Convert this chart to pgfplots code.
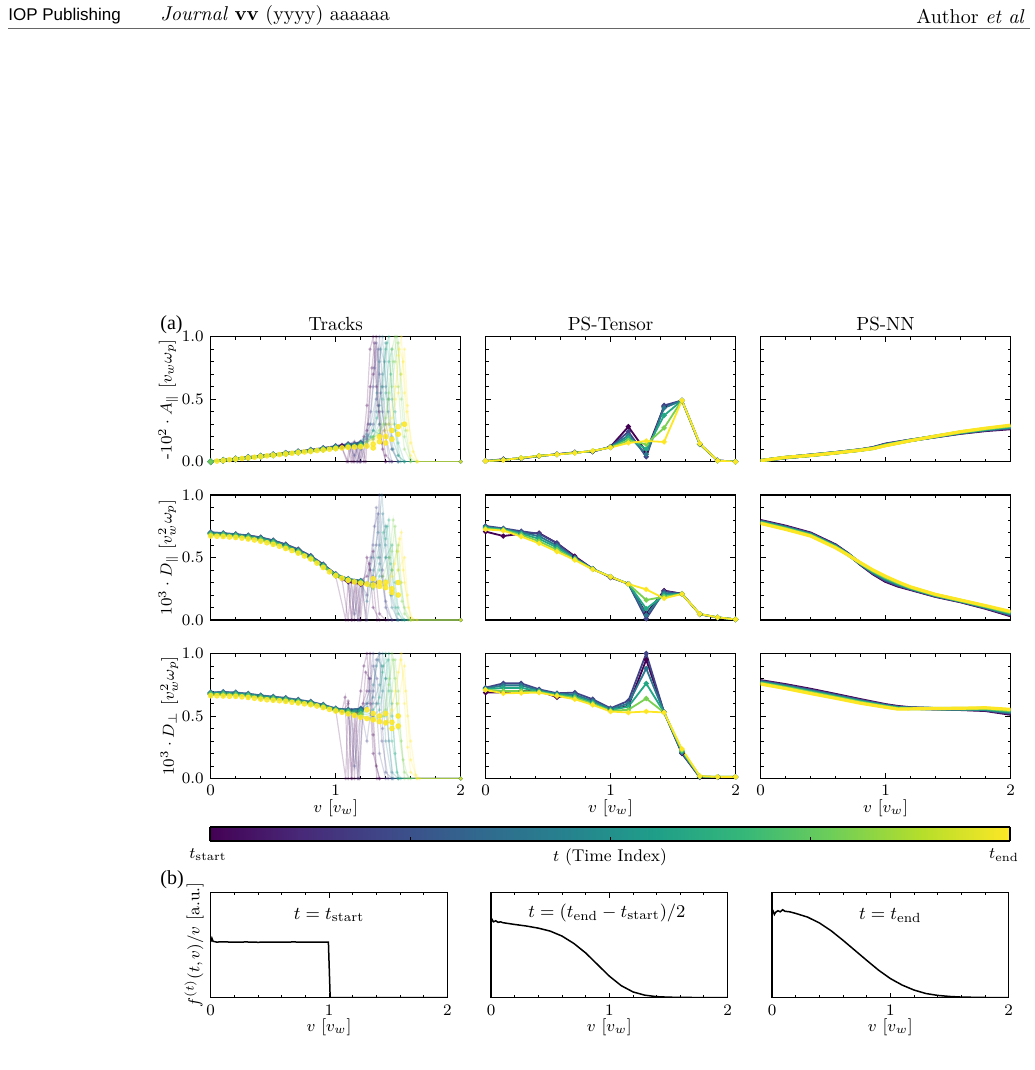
\documentclass[border=0pt]{standalone}
\usepackage{fontspec}
\usepackage{pgfplots}
\usepackage{pgfplotstable}
\pgfplotsset{compat=1.18}
\newfontfamily\timesf{Liberation Serif}
\newfontfamily\helvf{Liberation Sans}
\definecolor{C0}{RGB}{68,1,84}
\definecolor{C1}{RGB}{65,68,135}
\definecolor{C2}{RGB}{42,120,142}
\definecolor{C3}{RGB}{34,168,132}
\definecolor{C4}{RGB}{122,209,81}
\definecolor{C5}{RGB}{253,231,37}
\pgfplotsset{colormap={vir}{rgb255=(68,1,84) rgb255=(72,40,120) rgb255=(62,73,137) rgb255=(49,104,142) rgb255=(38,130,142) rgb255=(31,158,137) rgb255=(53,183,121) rgb255=(110,206,88) rgb255=(181,222,43) rgb255=(253,231,37)}}
\pgfplotsset{
  base/.style={scale only axis, xmin=0, xmax=2, ymin=0, ymax=1, xtick={0,1,2}, minor x tick num=4,
    tick align=inside, major tick length=2.6pt, minor tick length=1.5pt,
    tick style={black, line width=0.45pt}, axis line style={line width=0.6pt},
    tick label style={font=\fontsize{8.5}{9}\selectfont},
    label style={font=\fontsize{8.5}{9}\selectfont},
    title style={font=\fontsize{9.5}{10}\selectfont, yshift=-6.5pt},
    xlabel shift=-5pt},
  apanel/.style={base, width=125pt, height=62.5pt, ytick={0,0.5,1}, minor y tick num=4,
    ylabel shift=-5pt,
    yticklabel style={/pgf/number format/.cd, fixed, fixed zerofill, precision=1}},
  bpanel/.style={base, width=118.3pt, height=52.7pt, ytick=\empty},
  fan/.style={line width=0.6pt, opacity=0.2, mark=*, mark size=0.6pt},
  core/.style={line width=1.3pt, opacity=0.75, mark=*, mark size=0.8pt},
  ydot/.style={only marks, mark=*, mark size=1.2pt, color=C5, opacity=0.85},
  ps/.style={line width=0.9pt, mark=*, mark size=0.8pt},
  nn/.style={line width=1.6pt},
}
% PS-Tensor tables
\pgfplotstableread{
v t0 t1 t2 t3 t4 t5
0 .005 .005 .005 .005 .005 .005
0.1429 .020 .018 .016 .015 .014 .013
0.2857 .025 .027 .028 .029 .030 .030
0.4286 .045 .046 .046 .047 .047 .047
0.5714 .060 .059 .059 .058 .058 .058
0.7143 .075 .074 .073 .072 .071 .070
0.8571 .080 .082 .084 .085 .086 .087
1.0 .120 .118 .117 .115 .114 .113
1.1429 .280 .240 .210 .190 .170 .150
1.2857 .080 .040 .060 .100 .140 .166
1.4286 .440 .450 .430 .370 .270 .158
1.5714 .490 .490 .490 .490 .490 .490
1.7143 .140 .140 .142 .143 .144 .145
1.8571 .010 .010 .009 .009 .008 .008
2.0 .000 .000 .000 .000 .000 .000
}\tenA
\pgfplotstableread{
v t0 t1 t2 t3 t4 t5
0 .707 .752 .745 .738 .730 .725
0.1429 .672 .733 .728 .724 .720 .715
0.2857 .690 .710 .700 .690 .680 .667
0.4286 .695 .690 .670 .650 .630 .613
0.5714 .615 .615 .595 .580 .562 .547
0.7143 .510 .500 .495 .490 .485 .480
0.8571 .410 .410 .409 .408 .406 .405
1.0 .340 .345 .346 .346 .347 .347
1.1429 .290 .290 .289 .289 .288 .288
1.2857 .050 .010 .040 .090 .160 .245
1.4286 .235 .230 .215 .200 .186 .173
1.5714 .210 .210 .209 .209 .208 .208
1.7143 .045 .046 .047 .047 .048 .048
1.8571 .020 .020 .021 .021 .021 .021
2.0 .005 .005 .005 .005 .005 .005
}\tenB
\pgfplotstableread{
v t0 t1 t2 t3 t4 t5
0 .687 .727 .720 .715 .711 .708
0.1429 .690 .761 .745 .725 .700 .682
0.2857 .700 .761 .745 .725 .700 .684
0.4286 .700 .713 .705 .698 .692 .687
0.5714 .650 .682 .677 .671 .665 .660
0.7143 .660 .687 .672 .658 .646 .634
0.8571 .600 .634 .620 .607 .598 .589
1.0 .550 .562 .555 .548 .541 .536
1.1429 .580 .621 .600 .575 .550 .528
1.2857 .950 1.000 .880 .760 .640 .536
1.4286 .530 .530 .530 .529 .528 .528
1.5714 .200 .205 .210 .218 .227 .236
1.7143 .010 .012 .014 .016 .018 .019
1.8571 .010 .012 .012 .013 .013 .013
2.0 .013 .013 .013 .013 .013 .013
}\tenC
% PS-NN tables
\pgfplotstableread{
v t0 t1 t2 t3 t4 t5
0 .008 .008 .008 .008 .008 .008
0.2 .032 .033 .033 .034 .034 .035
0.4 .052 .052 .051 .051 .050 .050
0.6 .072 .072 .071 .071 .070 .070
0.8 .095 .094 .094 .093 .093 .092
0.9 .112 .110 .109 .107 .106 .105
1.0 .140 .138 .135 .133 .130 .128
1.2 .172 .171 .170 .170 .169 .168
1.4 .200 .201 .202 .203 .204 .205
1.6 .228 .230 .233 .235 .238 .240
1.8 .250 .254 .257 .261 .264 .268
2.0 .265 .270 .276 .281 .287 .292
}\nnA
\pgfplotstableread{
v t0 t1 t2 t3 t4 t5
0 .795 .791 .786 .782 .777 .773
0.2 .750 .745 .740 .735 .730 .725
0.4 .695 .690 .686 .681 .677 .672
0.6 .600 .596 .591 .587 .582 .578
0.7 .530 .528 .526 .524 .522 .520
0.8 .445 .448 .450 .453 .455 .458
0.9 .370 .376 .382 .388 .394 .400
1.0 .310 .318 .326 .334 .342 .350
1.1 .272 .279 .286 .292 .299 .305
1.2 .245 .249 .253 .257 .261 .265
1.4 .190 .193 .196 .199 .202 .205
1.6 .147 .150 .152 .155 .157 .160
1.8 .095 .099 .103 .107 .111 .115
2.0 .035 .042 .048 .055 .061 .068
}\nnB
\pgfplotstableread{
v t0 t1 t2 t3 t4 t5
0 .782 .777 .772 .766 .761 .756
0.2 .750 .744 .738 .732 .726 .720
0.4 .713 .706 .700 .693 .687 .680
0.6 .672 .666 .660 .654 .648 .642
0.8 .630 .624 .619 .613 .608 .602
1.0 .590 .586 .582 .578 .574 .570
1.1 .575 .571 .567 .563 .559 .555
1.2 .565 .563 .562 .560 .559 .557
1.4 .558 .558 .559 .559 .560 .560
1.6 .553 .555 .557 .558 .560 .562
1.8 .545 .549 .553 .558 .562 .566
2.0 .515 .523 .530 .538 .545 .553
}\nnC
\begin{document}
\begin{tikzpicture}
\path[use as bounding box] (0pt,0pt) rectangle (517pt,-535pt);
% header
\node[anchor=west, inner sep=0pt, font=\helvf\fontsize{8.5}{10}\selectfont] at (4pt,-8pt) {IOP Publishing};
\node[anchor=west, inner sep=0pt, font=\fontsize{10}{11}\selectfont] at (80pt,-8pt) {\textit{Journal} \textbf{vv} (yyyy) aaaaaa};
\node[anchor=east, inner sep=0pt, font=\fontsize{10}{11}\selectfont] at (512.5pt,-8pt) {Author \textit{et al}};
\draw[line width=0.4pt, black!60] (4pt,-14pt) -- (515pt,-14pt);
\node[font=\timesf\fontsize{10}{11}\selectfont] at (85.75pt,-162.5pt) {(a)};
\node[font=\timesf\fontsize{10}{11}\selectfont] at (86pt,-440pt) {(b)};

% ===== Row 1 =====
\begin{axis}[apanel, at={(105.35pt,-230.85pt)}, anchor=south west, title={Tracks}, xticklabels={},
  ylabel={-$10^2\cdot A_\parallel$ [$v_w\omega_p$]}]
\addplot[C0,fan] coordinates {(1.05,.11)(1.1,0)(1.125,.13)(1.15,0)(1.175,.14)(1.2,0)(1.225,.2)(1.25,.45)(1.275,.9)(1.3,1.0)(1.325,.6)(1.35,.3)(1.375,.1)(1.4,0)(2,0)};
\addplot[C0,fan] coordinates {(1.05,.11)(1.1,.12)(1.125,0)(1.15,.15)(1.175,0)(1.2,.13)(1.225,0)(1.25,.25)(1.275,.6)(1.3,.7)(1.325,1.0)(1.35,.4)(1.4,.05)(1.45,0)(2,0)};
\addplot[C0,fan] coordinates {(1.05,.11)(1.09,0)(1.11,.12)(1.14,0)(1.16,.13)(1.19,0)(1.21,.14)(1.24,0)(1.26,.3)(1.29,.75)(1.31,.95)(1.34,.45)(1.37,.15)(1.4,0)(2,0)};
\addplot[C1,fan] coordinates {(1.05,.12)(1.1,.13)(1.15,.05)(1.2,.15)(1.25,.12)(1.275,.3)(1.3,.6)(1.325,.95)(1.35,.7)(1.375,.4)(1.4,.2)(1.45,0)(2,0)};
\addplot[C1,fan] coordinates {(1.05,.12)(1.1,.14)(1.15,.16)(1.2,0)(1.25,.18)(1.3,.3)(1.325,.5)(1.35,1.0)(1.375,.6)(1.4,.3)(1.45,.1)(1.5,0)(2,0)};
\addplot[C1,fan] coordinates {(1.05,.12)(1.12,.13)(1.17,0)(1.22,.16)(1.28,.4)(1.31,.75)(1.34,.9)(1.36,.55)(1.39,.25)(1.43,0)(2,0)};
\addplot[C2,fan] coordinates {(1.05,.12)(1.15,.14)(1.2,.15)(1.25,.2)(1.3,.25)(1.325,.4)(1.35,.8)(1.375,1.0)(1.4,.6)(1.425,.3)(1.45,.1)(1.5,0)(2,0)};
\addplot[C2,fan] coordinates {(1.05,.12)(1.15,.13)(1.2,.1)(1.25,.22)(1.3,.18)(1.35,.45)(1.375,.7)(1.4,.95)(1.425,.5)(1.45,.2)(1.5,.05)(1.55,0)(2,0)};
\addplot[C2,fan] coordinates {(1.05,.12)(1.15,.14)(1.22,.18)(1.28,.3)(1.33,.55)(1.36,.9)(1.39,.8)(1.42,.4)(1.46,.1)(1.5,0)(2,0)};
\addplot[C3,fan] coordinates {(1.05,.12)(1.15,.14)(1.25,.16)(1.3,.2)(1.35,.3)(1.375,.5)(1.4,.9)(1.425,1.0)(1.45,.5)(1.475,.25)(1.5,.05)(1.55,0)(2,0)};
\addplot[C3,fan] coordinates {(1.05,.12)(1.15,.14)(1.25,.14)(1.3,.25)(1.35,.22)(1.4,.55)(1.425,.8)(1.45,.9)(1.475,.4)(1.5,.15)(1.55,0)(2,0)};
\addplot[C3,fan] coordinates {(1.05,.12)(1.2,.15)(1.28,.2)(1.33,.35)(1.37,.6)(1.41,.95)(1.44,.7)(1.47,.3)(1.52,0)(2,0)};
\addplot[C4,fan] coordinates {(1.05,.12)(1.2,.14)(1.3,.18)(1.35,.25)(1.4,.3)(1.425,.55)(1.45,.9)(1.475,1.0)(1.5,.6)(1.525,.3)(1.55,.1)(1.6,0)(2,0)};
\addplot[C4,fan] coordinates {(1.05,.12)(1.2,.13)(1.3,.2)(1.35,.22)(1.4,.35)(1.45,.6)(1.475,.8)(1.5,.95)(1.525,.5)(1.55,.2)(1.6,.02)(1.65,0)(2,0)};
\addplot[C4,fan] coordinates {(1.05,.12)(1.2,.14)(1.3,.2)(1.38,.3)(1.42,.5)(1.46,.8)(1.49,1.0)(1.52,.7)(1.56,.25)(1.6,0)(2,0)};
\addplot[C5,fan] coordinates {(1.05,.12)(1.2,.12)(1.3,.16)(1.4,.22)(1.45,.3)(1.475,.5)(1.5,.85)(1.525,1.0)(1.55,.55)(1.575,.25)(1.6,.05)(1.65,0)(2,0)};
\addplot[C5,fan] coordinates {(1.05,.12)(1.2,.13)(1.3,.18)(1.4,.25)(1.45,.35)(1.5,.55)(1.525,.7)(1.55,.9)(1.575,.45)(1.6,.15)(1.65,0)(2,0)};
\addplot[C5,fan] coordinates {(1.05,.12)(1.2,.13)(1.35,.2)(1.42,.3)(1.48,.6)(1.51,.9)(1.54,.8)(1.57,.4)(1.62,.08)(1.66,0)(2,0)};
\addplot[C0,core] coordinates {(0,0)(0.1,.011)(0.2,.022)(0.3,.033)(0.4,.044)(0.5,.055)(0.6,.066)(0.7,.078)(0.8,.09)(0.9,.103)(1.0,.118)(1.05,.125)(1.1,.13)};
\addplot[C1,core] coordinates {(0,0)(0.1,.011)(0.2,.022)(0.3,.034)(0.4,.045)(0.5,.056)(0.6,.068)(0.7,.08)(0.8,.093)(0.9,.107)(1.0,.122)(1.1,.138)(1.2,.15)};
\addplot[C2,core] coordinates {(0,0)(0.1,.011)(0.2,.022)(0.3,.033)(0.4,.044)(0.5,.055)(0.6,.066)(0.7,.078)(0.8,.09)(0.9,.104)(1.0,.118)(1.1,.132)(1.2,.145)};
\addplot[C3,core] coordinates {(0,0)(0.1,.011)(0.2,.021)(0.3,.032)(0.4,.043)(0.5,.054)(0.6,.065)(0.7,.076)(0.8,.088)(0.9,.1)(1.0,.113)(1.1,.126)(1.2,.135)};
\addplot[C4,core] coordinates {(0,0)(0.1,.01)(0.2,.021)(0.3,.032)(0.4,.042)(0.5,.053)(0.6,.064)(0.7,.075)(0.8,.086)(0.9,.097)(1.0,.108)(1.1,.12)(1.2,.128)};
\addplot[ydot] coordinates {(0.05,.005)(0.1,.01)(0.15,.016)(0.2,.021)(0.25,.026)(0.3,.031)(0.35,.036)(0.4,.042)(0.45,.047)(0.5,.052)(0.55,.057)(0.6,.062)(0.65,.068)(0.7,.073)(0.75,.078)(0.8,.083)(0.85,.089)(0.9,.094)(0.95,.1)(1.0,.105)(1.05,.11)(1.1,.115)(1.15,.118)(1.2,.12)(1.25,.125)(1.3,.14)(1.35,.16)(1.4,.2)(1.45,.25)(1.5,.28)(1.3,.11)(1.35,.2)(1.4,.15)(1.45,.18)(1.5,.22)(1.55,.3)};
\end{axis}

\begin{axis}[apanel, at={(242.75pt,-230.85pt)}, anchor=south west, title={PS-Tensor}, xticklabels={}, yticklabels={}]
\pgfplotsinvokeforeach{0,...,5}{\addplot[C#1,ps] table[x=v,y=t#1] \tenA;}
\end{axis}

\begin{axis}[apanel, at={(380.25pt,-230.85pt)}, anchor=south west, title={PS-NN}, xticklabels={}, yticklabels={}]
\pgfplotsinvokeforeach{0,...,5}{\addplot[C#1,nn] table[x=v,y=t#1] \nnA;}
\end{axis}

% ===== Row 2 =====
\begin{axis}[apanel, at={(105.35pt,-310pt)}, anchor=south west, xticklabels={},
  ylabel={$10^3\cdot D_\parallel$ [$v_w^2\omega_p$]}]
\addplot[C0,fan] coordinates {(1.0,.35)(1.05,.33)(1.1,0)(1.125,.3)(1.15,0)(1.175,.31)(1.2,0)(1.225,.3)(1.25,.5)(1.275,.4)(1.3,.1)(1.35,0)(2,0)};
\addplot[C0,fan] coordinates {(1.0,.35)(1.05,.32)(1.1,.3)(1.125,0)(1.15,.3)(1.175,0)(1.2,.32)(1.25,.35)(1.3,.55)(1.325,.3)(1.35,.05)(1.4,0)(2,0)};
\addplot[C0,fan] coordinates {(1.0,.35)(1.08,0)(1.1,.32)(1.13,0)(1.16,.3)(1.19,0)(1.21,.31)(1.24,0)(1.27,.45)(1.3,.3)(1.33,0)(2,0)};
\addplot[C1,fan] coordinates {(1.0,.36)(1.1,.33)(1.15,.05)(1.2,.3)(1.25,.2)(1.3,.6)(1.325,.9)(1.35,.5)(1.4,.1)(1.45,0)(2,0)};
\addplot[C1,fan] coordinates {(1.0,.36)(1.1,.32)(1.2,.31)(1.25,0)(1.3,.35)(1.325,.6)(1.35,1.0)(1.375,.4)(1.4,.15)(1.45,0)(2,0)};
\addplot[C1,fan] coordinates {(1.0,.36)(1.12,.32)(1.18,0)(1.22,.32)(1.28,.5)(1.31,.75)(1.34,.85)(1.37,.35)(1.42,0)(2,0)};
\addplot[C2,fan] coordinates {(1.0,.36)(1.1,.33)(1.2,.32)(1.25,.15)(1.3,.4)(1.35,.6)(1.375,.85)(1.4,.5)(1.45,.1)(1.5,0)(2,0)};
\addplot[C2,fan] coordinates {(1.0,.36)(1.1,.33)(1.2,.3)(1.3,.28)(1.35,.45)(1.4,.75)(1.425,.5)(1.45,.2)(1.5,0)(2,0)};
\addplot[C2,fan] coordinates {(1.0,.36)(1.15,.32)(1.25,.3)(1.3,.5)(1.34,.7)(1.37,1.0)(1.4,.6)(1.44,.2)(1.49,0)(2,0)};
\addplot[C3,fan] coordinates {(1.0,.36)(1.1,.32)(1.2,.3)(1.3,.3)(1.35,.4)(1.4,.65)(1.425,.8)(1.45,.4)(1.5,.05)(1.55,0)(2,0)};
\addplot[C3,fan] coordinates {(1.0,.36)(1.1,.32)(1.2,.3)(1.3,.25)(1.35,.35)(1.4,.5)(1.45,.6)(1.475,.3)(1.5,.1)(1.55,0)(2,0)};
\addplot[C3,fan] coordinates {(1.0,.36)(1.15,.31)(1.28,.28)(1.34,.5)(1.38,.7)(1.41,.75)(1.44,.45)(1.48,.1)(1.53,0)(2,0)};
\addplot[C4,fan] coordinates {(1.0,.35)(1.1,.32)(1.2,.3)(1.3,.28)(1.4,.32)(1.45,.55)(1.475,.75)(1.5,.4)(1.55,.1)(1.6,0)(2,0)};
\addplot[C4,fan] coordinates {(1.0,.35)(1.1,.32)(1.2,.3)(1.3,.26)(1.4,.28)(1.45,.4)(1.5,.6)(1.525,.3)(1.55,.05)(1.6,0)(2,0)};
\addplot[C4,fan] coordinates {(1.0,.35)(1.15,.31)(1.3,.27)(1.38,.35)(1.43,.5)(1.46,.8)(1.49,.55)(1.53,.15)(1.58,0)(2,0)};
\addplot[C5,fan] coordinates {(1.0,.35)(1.1,.32)(1.2,.29)(1.3,.27)(1.4,.28)(1.45,.35)(1.5,.55)(1.525,.7)(1.55,.3)(1.6,0)(2,0)};
\addplot[C5,fan] coordinates {(1.0,.35)(1.1,.32)(1.2,.29)(1.3,.26)(1.4,.25)(1.5,.4)(1.55,.5)(1.575,.2)(1.6,.02)(1.65,0)(2,0)};
\addplot[C5,fan] coordinates {(1.0,.35)(1.15,.3)(1.3,.26)(1.42,.3)(1.47,.45)(1.51,.65)(1.54,.4)(1.58,.1)(1.62,0)(2,0)};
\addplot[C0,core] coordinates {(0,.69)(0.1,.688)(0.2,.682)(0.3,.672)(0.4,.656)(0.5,.632)(0.6,.6)(0.7,.56)(0.8,.508)(0.9,.44)(1.0,.36)(1.1,.31)(1.2,.29)};
\addplot[C1,core] coordinates {(0,.70)(0.1,.692)(0.2,.684)(0.3,.674)(0.4,.658)(0.5,.634)(0.6,.602)(0.7,.562)(0.8,.51)(0.9,.442)(1.0,.365)(1.1,.325)(1.2,.31)};
\addplot[C2,core] coordinates {(0,.695)(0.1,.69)(0.2,.682)(0.3,.671)(0.4,.655)(0.5,.631)(0.6,.598)(0.7,.558)(0.8,.506)(0.9,.438)(1.0,.362)(1.1,.325)(1.2,.31)};
\addplot[C3,core] coordinates {(0,.69)(0.1,.686)(0.2,.678)(0.3,.667)(0.4,.65)(0.5,.625)(0.6,.592)(0.7,.552)(0.8,.5)(0.9,.433)(1.0,.36)(1.1,.322)(1.2,.305)};
\addplot[C4,core] coordinates {(0,.682)(0.1,.678)(0.2,.67)(0.3,.658)(0.4,.64)(0.5,.615)(0.6,.582)(0.7,.543)(0.8,.494)(0.9,.427)(1.0,.358)(1.1,.32)(1.2,.3)};
\addplot[ydot] coordinates {(0,.672)(0.05,.67)(0.1,.668)(0.15,.664)(0.2,.66)(0.25,.655)(0.3,.648)(0.35,.64)(0.4,.63)(0.45,.618)(0.5,.605)(0.55,.59)(0.6,.572)(0.65,.555)(0.7,.535)(0.75,.512)(0.8,.488)(0.85,.455)(0.9,.42)(0.95,.385)(1.0,.355)(1.05,.335)(1.1,.318)(1.15,.305)(1.2,.295)(1.25,.288)(1.3,.28)(1.35,.27)(1.4,.26)(1.45,.25)(1.3,.33)(1.35,.3)(1.4,.3)(1.45,.22)(1.5,.2)(1.5,.3)};
\end{axis}

\begin{axis}[apanel, at={(242.75pt,-310pt)}, anchor=south west, xticklabels={}, yticklabels={}]
\pgfplotsinvokeforeach{0,...,5}{\addplot[C#1,ps] table[x=v,y=t#1] \tenB;}
\end{axis}

\begin{axis}[apanel, at={(380.25pt,-310pt)}, anchor=south west, xticklabels={}, yticklabels={}]
\pgfplotsinvokeforeach{0,...,5}{\addplot[C#1,nn] table[x=v,y=t#1] \nnB;}
\end{axis}

% ===== Row 3 =====
\begin{axis}[apanel, at={(105.35pt,-389.25pt)}, anchor=south west,
  xlabel={$v$ [$v_w$]}, ylabel={$10^3\cdot D_\perp$ [$v_w^2\omega_p$]}]
\addplot[C0,fan] coordinates {(1.0,.55)(1.05,.54)(1.075,.65)(1.1,0)(1.125,.55)(1.15,0)(1.175,.53)(1.2,.7)(1.225,.9)(1.25,1.0)(1.275,.6)(1.3,.2)(1.35,0)(2,0)};
\addplot[C0,fan] coordinates {(1.0,.55)(1.05,.53)(1.1,.6)(1.125,0)(1.15,.5)(1.175,0)(1.2,.55)(1.25,.7)(1.275,1.0)(1.3,.5)(1.325,.1)(1.35,0)(2,0)};
\addplot[C0,fan] coordinates {(1.0,.55)(1.08,0)(1.1,.62)(1.13,0)(1.16,.52)(1.19,0)(1.22,.6)(1.24,.85)(1.27,.8)(1.3,.35)(1.33,0)(2,0)};
\addplot[C1,fan] coordinates {(1.0,.56)(1.1,.55)(1.15,.1)(1.2,.55)(1.25,.6)(1.275,.8)(1.3,1.0)(1.325,.6)(1.35,.2)(1.4,0)(2,0)};
\addplot[C1,fan] coordinates {(1.0,.56)(1.1,.55)(1.2,.56)(1.25,.3)(1.3,.7)(1.325,.95)(1.35,1.0)(1.375,.4)(1.4,.05)(1.45,0)(2,0)};
\addplot[C1,fan] coordinates {(1.0,.56)(1.12,.55)(1.18,0)(1.22,.56)(1.27,.7)(1.3,.9)(1.33,.8)(1.37,.3)(1.42,0)(2,0)};
\addplot[C2,fan] coordinates {(1.0,.56)(1.1,.55)(1.2,.55)(1.25,.6)(1.3,.65)(1.325,.9)(1.35,1.0)(1.375,.7)(1.4,.3)(1.45,0)(2,0)};
\addplot[C2,fan] coordinates {(1.0,.56)(1.1,.55)(1.2,.54)(1.3,.6)(1.35,.75)(1.375,1.0)(1.4,.8)(1.425,.3)(1.45,.05)(1.5,0)(2,0)};
\addplot[C2,fan] coordinates {(1.0,.56)(1.15,.55)(1.25,.57)(1.3,.75)(1.34,.95)(1.37,.9)(1.41,.45)(1.46,0)(2,0)};
\addplot[C3,fan] coordinates {(1.0,.55)(1.1,.54)(1.2,.53)(1.3,.55)(1.35,.65)(1.375,.85)(1.4,1.0)(1.425,.7)(1.45,.3)(1.5,0)(2,0)};
\addplot[C3,fan] coordinates {(1.0,.55)(1.1,.54)(1.2,.52)(1.3,.5)(1.35,.55)(1.4,.8)(1.425,1.0)(1.45,.6)(1.475,.2)(1.5,0)(2,0)};
\addplot[C3,fan] coordinates {(1.0,.55)(1.15,.54)(1.28,.52)(1.34,.6)(1.38,.9)(1.42,.95)(1.45,.5)(1.49,.05)(1.52,0)(2,0)};
\addplot[C4,fan] coordinates {(1.0,.55)(1.1,.53)(1.2,.5)(1.3,.48)(1.4,.55)(1.425,.75)(1.45,1.0)(1.475,.8)(1.5,.4)(1.55,.05)(1.6,0)(2,0)};
\addplot[C4,fan] coordinates {(1.0,.55)(1.1,.53)(1.2,.5)(1.3,.47)(1.4,.5)(1.45,.7)(1.475,.95)(1.5,.7)(1.525,.3)(1.55,0)(2,0)};
\addplot[C4,fan] coordinates {(1.0,.55)(1.15,.52)(1.3,.48)(1.38,.5)(1.43,.8)(1.46,.95)(1.49,.6)(1.54,.15)(1.58,0)(2,0)};
\addplot[C5,fan] coordinates {(1.0,.54)(1.1,.52)(1.2,.49)(1.3,.47)(1.4,.45)(1.45,.55)(1.5,.85)(1.525,1.0)(1.55,.6)(1.575,.25)(1.6,.05)(1.65,0)(2,0)};
\addplot[C5,fan] coordinates {(1.0,.54)(1.1,.52)(1.2,.49)(1.3,.46)(1.4,.44)(1.5,.6)(1.55,.9)(1.575,.5)(1.6,.15)(1.65,0)(2,0)};
\addplot[C5,fan] coordinates {(1.0,.54)(1.15,.51)(1.3,.47)(1.42,.46)(1.48,.7)(1.52,.95)(1.56,.7)(1.6,.3)(1.64,.03)(1.67,0)(2,0)};
\addplot[C0,core] coordinates {(0,.675)(0.1,.68)(0.2,.678)(0.3,.67)(0.4,.657)(0.5,.646)(0.6,.636)(0.7,.622)(0.8,.606)(0.9,.582)(1.0,.552)(1.1,.54)(1.2,.55)};
\addplot[C1,core] coordinates {(0,.685)(0.1,.69)(0.2,.685)(0.3,.676)(0.4,.662)(0.5,.652)(0.6,.642)(0.7,.627)(0.8,.611)(0.9,.587)(1.0,.558)(1.1,.548)(1.2,.555)};
\addplot[C2,core] coordinates {(0,.685)(0.1,.687)(0.2,.683)(0.3,.674)(0.4,.66)(0.5,.65)(0.6,.64)(0.7,.625)(0.8,.609)(0.9,.585)(1.0,.556)(1.1,.546)(1.2,.553)};
\addplot[C3,core] coordinates {(0,.68)(0.1,.682)(0.2,.678)(0.3,.669)(0.4,.655)(0.5,.645)(0.6,.634)(0.7,.62)(0.8,.604)(0.9,.58)(1.0,.552)(1.1,.54)(1.2,.54)};
\addplot[C4,core] coordinates {(0,.672)(0.1,.672)(0.2,.668)(0.3,.66)(0.4,.646)(0.5,.636)(0.6,.626)(0.7,.612)(0.8,.598)(0.9,.574)(1.0,.546)(1.1,.53)(1.2,.515)};
\addplot[ydot] coordinates {(0,.662)(0.05,.662)(0.1,.66)(0.15,.658)(0.2,.657)(0.25,.653)(0.3,.648)(0.35,.642)(0.4,.635)(0.45,.63)(0.5,.626)(0.55,.622)(0.6,.617)(0.65,.61)(0.7,.604)(0.75,.597)(0.8,.59)(0.85,.58)(0.9,.567)(0.95,.553)(1.0,.54)(1.05,.53)(1.1,.517)(1.15,.505)(1.2,.49)(1.25,.48)(1.3,.47)(1.35,.455)(1.4,.445)(1.45,.45)(1.5,.5)(1.25,.55)(1.3,.52)(1.35,.5)(1.4,.52)(1.45,.4)(1.5,.42)};
\end{axis}

\begin{axis}[apanel, at={(242.75pt,-389.25pt)}, anchor=south west, yticklabels={}, xlabel={$v$ [$v_w$]}]
\pgfplotsinvokeforeach{0,...,5}{\addplot[C#1,ps] table[x=v,y=t#1] \tenC;}
\end{axis}

\begin{axis}[apanel, at={(380.25pt,-389.25pt)}, anchor=south west, yticklabels={}, xlabel={$v$ [$v_w$]}]
\pgfplotsinvokeforeach{0,...,5}{\addplot[C#1,nn] table[x=v,y=t#1] \nnC;}
\end{axis}

% ===== colorbar =====
\begin{axis}[at={(105pt,-420.5pt)}, anchor=south west, scale only axis, width=400pt, height=7pt,
  xmin=0, xmax=1, ymin=0, ymax=1, view={0}{90}, ytick=\empty, xtick={0.25,0.5,0.75}, xticklabels={},
  xtick pos=bottom, tick align=inside, major tick length=2pt, tick style={black, line width=0.4pt},
  axis line style={line width=0.6pt}, colormap name=vir, axis on top]
\addplot3[surf, shader=interp, point meta=x] coordinates {
(0,0,0) (0.1111,0,0) (0.2222,0,0) (0.3333,0,0) (0.4444,0,0) (0.5556,0,0) (0.6667,0,0) (0.7778,0,0) (0.8889,0,0) (1,0,0)

(0,1,0) (0.1111,1,0) (0.2222,1,0) (0.3333,1,0) (0.4444,1,0) (0.5556,1,0) (0.6667,1,0) (0.7778,1,0) (0.8889,1,0) (1,1,0)
};
\end{axis}
\node[anchor=north, font=\fontsize{8.5}{9}\selectfont] at (104pt,-421pt) {$t_{\rm start}$};
\node[anchor=north, font=\fontsize{8.5}{9}\selectfont] at (305pt,-421pt) {$t$ (Time Index)};
\node[anchor=north, font=\fontsize{8.5}{9}\selectfont] at (502pt,-421pt) {$t_{\rm end}$};

% ===== (b) =====
\begin{axis}[bpanel, at={(105.35pt,-498.85pt)}, anchor=south west, xlabel={$v$ [$v_w$]},
  ylabel={$f^{(t)}(t,v)/v$ [a.u.]}]
\addplot[black, line width=0.75pt] coordinates {(0,0.53)(0.01,0.565)(0.02,0.535)(0.05,0.528)(0.1,0.53)(0.2,0.527)(0.3,0.529)(0.4,0.526)(0.5,0.528)(0.6,0.527)(0.7,0.529)(0.8,0.527)(0.9,0.528)(0.995,0.527)(1.01,0)(2,0)};
\node[font=\fontsize{9.5}{10}\selectfont] at (rel axis cs:0.5,0.78) {$t=t_{\rm start}$};
\end{axis}

\begin{axis}[bpanel, at={(245.5pt,-498.85pt)}, anchor=south west, xlabel={$v$ [$v_w$]}]
\addplot[black, line width=0.75pt] coordinates {(0,.72)(0.01,.74)(0.02,.72)(0.04,.73)(0.06,.715)(0.08,.72)(0.1,.712)(0.2,.695)(0.3,.68)(0.4,.66)(0.5,.632)(0.6,.585)(0.7,.515)(0.8,.425)(0.9,.315)(1.0,.205)(1.1,.115)(1.2,.055)(1.3,.024)(1.4,.01)(1.5,.005)(1.6,.003)(1.8,.001)(2.0,0)};
\node[font=\fontsize{9.5}{10}\selectfont] at (rel axis cs:0.49,0.8) {$t=(t_{\rm end}-t_{\rm start})/2$};
\end{axis}

\begin{axis}[bpanel, at={(386pt,-498.85pt)}, anchor=south west, xlabel={$v$ [$v_w$]}]
\addplot[black, line width=0.75pt] coordinates {(0,.80)(0.01,.82)(0.02,.79)(0.03,.81)(0.05,.825)(0.07,.815)(0.09,.835)(0.11,.82)(0.15,.815)(0.2,.80)(0.3,.765)(0.4,.71)(0.5,.635)(0.6,.545)(0.7,.45)(0.8,.355)(0.9,.262)(1.0,.182)(1.1,.12)(1.2,.073)(1.3,.04)(1.4,.022)(1.5,.012)(1.6,.006)(1.8,.002)(2.0,0)};
\node[font=\fontsize{9.5}{10}\selectfont] at (rel axis cs:0.5,0.78) {$t=t_{\rm end}$};
\end{axis}
\end{tikzpicture}
\end{document}
